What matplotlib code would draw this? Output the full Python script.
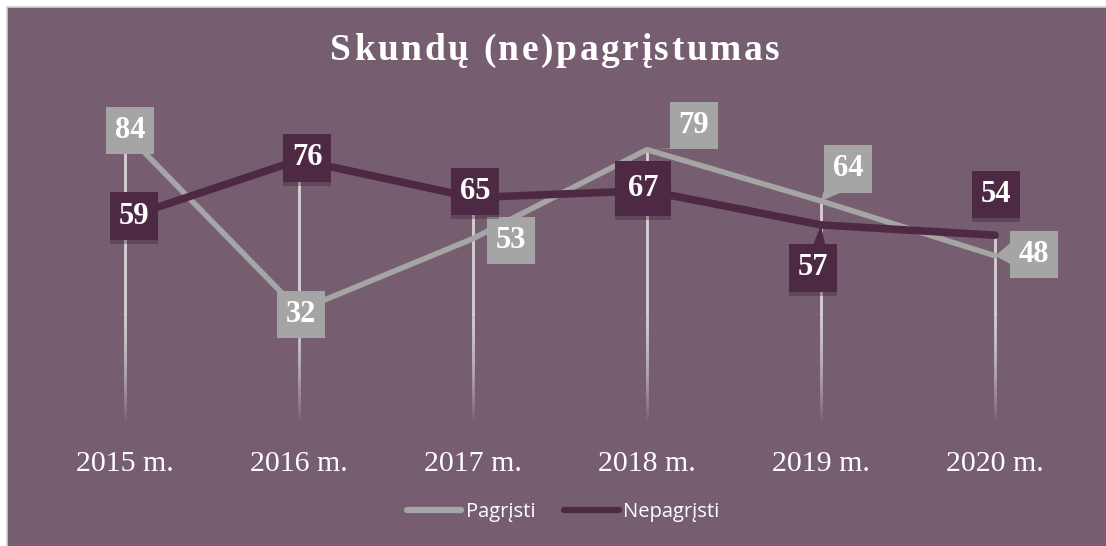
import matplotlib.pyplot as plt
from matplotlib.patches import Rectangle, Polygon
from matplotlib.collections import LineCollection
from matplotlib.transforms import IdentityTransform
import matplotlib.patheffects as pe

# duomenys
metai = ['2015 m.', '2016 m.', '2017 m.', '2018 m.', '2019 m.', '2020 m.']
pagristi = [84, 32, 53, 79, 64, 48]
nepagristi = [59, 76, 65, 67, 57, 54]

fonas = '#765D6F'
pilka = '#A5A5A5'
tamsi = '#4E2944'

W, H = 1106, 546
fig = plt.figure(figsize=(W / 100, H / 100), dpi=100, facecolor='white')

# fonas su pilku kraštu kairėje ir viršuje
fig.patches.append(Rectangle((7 / W, -0.05), 1.0, 1.05 - 7 / H, transform=fig.transFigure,
                             facecolor=fonas, edgecolor='#D0D0D0', linewidth=1.2, zorder=-10))

# ašys: 2015 ties x=125, 2020 ties x=995; 0 ties y=420, 90 ties y=112
ax = fig.add_axes([38 / W, 1 - 420 / H, (1082 - 38) / W, (420 - 112) / H])
ax.set_facecolor('none')
x = list(range(len(metai)))
ax.set_xlim(-0.5, len(metai) - 0.5)
ax.set_ylim(0, 90)

# vertikalios linijos su blėstančia apačia (sluoksniuojant permatomas linijas)
fade = 30
a_max = 0.72
n = 30
a_one = 1 - (1 - a_max) ** (1 / n)
for i in x:
    top = max(pagristi[i], nepagristi[i])
    ax.plot([i, i], [top, fade], color='white', alpha=a_max, lw=2, zorder=1,
            solid_capstyle='butt')
    segs = [[(i, fade * k / n), (i, fade)] for k in range(n)]
    ax.add_collection(LineCollection(segs, colors=[(1, 1, 1, a_one)] * n, linewidths=2,
                                     zorder=1, capstyle='butt'))

ax.plot(x, pagristi, color=pilka, lw=4, zorder=2, label='Pagrįsti', solid_capstyle='round')
ax.plot(x, nepagristi, color=tamsi, lw=5.5, zorder=3, label='Nepagrįsti', solid_capstyle='round')

# etikečių poslinkiai (px) ir rodyklės (kraštas, nuo, iki)
off_p = [(5, 2), (2, -4), (38, -2), (47, 24), (27, 32), (39, 1)]
off_n = [(9, 2), (8, 2), (2, 6), (-4, 2), (-8, -43), (1, 41)]
rod_p = [None, None, None, ('bottom', 0.0, 0.35), ('bottom', 0.0, 0.4), ('left', 0.3, 0.75)]
rod_n = [None, None, None, None, ('top', 0.5, 0.75), None]

def zyma(i, v, off, spalva, z, pad=0.3):
    return ax.annotate(str(v), (i, v), xytext=off, textcoords='offset pixels',
                       ha='center', va='center', fontsize=22, fontweight='bold',
                       family='Liberation Serif', color='white', zorder=z,
                       bbox=dict(boxstyle='square,pad=%s' % pad, fc=spalva, ec='none'))

zymos = []
for i in x:
    zymos.append((zyma(i, pagristi[i], off_p[i], pilka, 5), rod_p[i], pilka, pagristi[i], i))
    pad = 0.42 if i == 3 else 0.3
    t = zyma(i, nepagristi[i], off_n[i], tamsi, 6, pad)
    t.get_bbox_patch().set_path_effects([
        pe.SimplePatchShadow(offset=(0, -3), shadow_rgbFace='#3a1f33', alpha=0.35),
        pe.Normal()])
    zymos.append((t, rod_n[i], tamsi, nepagristi[i], i))

ax.set_xticks(x)
ax.set_xticklabels(metai, family='Liberation Serif', fontsize=21.5, color='white')
ax.tick_params(axis='x', length=0, pad=22)
ax.set_yticks([])
for s in ax.spines.values():
    s.set_visible(False)

leg = fig.legend(loc='center', bbox_to_anchor=(563 / W, 1 - 512 / H), ncol=2, frameon=False,
                 prop={'family': 'Open Sans', 'size': 14.5}, labelcolor='white',
                 handlelength=2.7, handletextpad=0.2, columnspacing=1.45)
for h in leg.get_lines():
    h.set_linewidth(4.5)
    h.set_solid_capstyle('round')

fig.canvas.draw()
r = fig.canvas.get_renderer()

# rodyklės nuo langelio iki taško
for ann, rod, spalva, v, i in zymos:
    if rod is None:
        continue
    bb = ann.get_bbox_patch().get_window_extent(r)
    tip = ax.transData.transform((i, v))
    krastas, a, b = rod
    if krastas == 'bottom':
        p1, p2 = (bb.x0 + a * bb.width, bb.y0 + 1), (bb.x0 + b * bb.width, bb.y0 + 1)
    elif krastas == 'top':
        p1, p2 = (bb.x0 + a * bb.width, bb.y1 - 1), (bb.x0 + b * bb.width, bb.y1 - 1)
    else:
        p1, p2 = (bb.x0 + 1, bb.y0 + a * bb.height), (bb.x0 + 1, bb.y0 + b * bb.height)
    ax.add_artist(Polygon([tip, p1, p2], closed=True, fc=spalva, ec='none',
                          transform=IdentityTransform(), zorder=4.5))

# pavadinimas su retintomis raidėmis
pav = 'Skundų (ne)pagrįstumas'
tp = dict(fontsize=27, fontweight='bold', family=['Liberation Serif', 'DejaVu Serif'])
def plotis(s):
    t = fig.text(0, 0, s + 'I', **tp)
    w = t.get_window_extent(r).width
    t.remove()
    return w
wI = plotis('')
tarpas = 2.6
adv = [plotis(pav[:k]) - wI + k * tarpas for k in range(len(pav) + 1)]
viso = adv[-1] - tarpas
x0 = 555 - viso / 2
for k, ch in enumerate(pav):
    if ch == ' ':
        continue
    fig.text((x0 + adv[k]) / W, 1 - 50 / H, ch, ha='left', va='center', color='white', **tp)

fig.savefig('out.png', dpi=100, facecolor='white')
